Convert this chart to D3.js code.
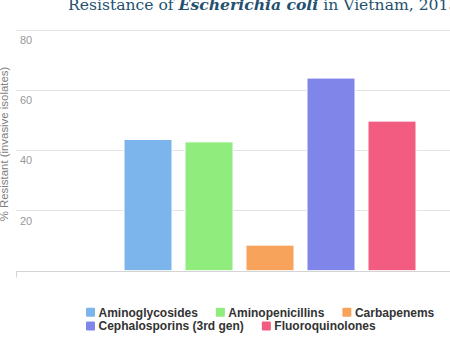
<!DOCTYPE html>
<html>
<head>
<meta charset="utf-8">
<script src="https://cdn.jsdelivr.net/npm/d3@7"></script>
<style>
  html, body { margin: 0; padding: 0; background: #ffffff; }
  svg { display: block; }
</style>
</head>
<body>
<svg id="chart" width="450" height="338"></svg>
<script>
// Antibiotic classes (one column each) and share of resistant invasive isolates, %
const classes = ["Aminoglycosides", "Aminopenicillins", "Carbapenems", "Cephalosporins (3rd gen)", "Fluoroquinolones"];
const resistant = [43.6, 42.8, 8.5, 64, 49.7];
const colors = ["#7cb5ec", "#90ed7d", "#f7a35c", "#8085e9", "#f15c80"];
const yTicks = [0, 20, 40, 60, 80];

const svg = d3.select("#chart");

// Plot frame
const plotLeft = 16, plotRight = 450;
const y = d3.scaleLinear().domain([0, 80]).range([270.7, 29.9]);
const x = d3.scaleBand().domain(classes).range([124, 416]).paddingInner(13 / 61).paddingOuter(0);

// Title (runs past the right edge)
const title = svg.append("text")
  .attr("x", 68).attr("y", 9.5)
  .attr("font-family", "'DejaVu Serif', 'Liberation Serif', serif")
  .attr("font-size", 15.6)
  .attr("fill", "#24516f");
title.append("tspan").text("Resistance of ");
title.append("tspan").attr("font-weight", "bold").attr("font-style", "italic").text("Escherichia coli");
title.append("tspan").text(" in Vietnam, 2013");

// Horizontal grid lines
svg.append("g").selectAll("line")
  .data(yTicks.filter(d => d > 0))
  .join("line")
  .attr("x1", plotLeft).attr("x2", plotRight)
  .attr("y1", d => Math.round(y(d)) + 0.5).attr("y2", d => Math.round(y(d)) + 0.5)
  .attr("stroke", "#e3e3e3").attr("stroke-width", 1);

// Tick labels sit just under their grid lines
svg.append("g").selectAll("text")
  .data(yTicks.filter(d => d > 0))
  .join("text")
  .attr("x", 20).attr("y", d => y(d) + 14)
  .attr("font-family", "'Liberation Sans', Arial, sans-serif")
  .attr("font-size", 11)
  .attr("fill", "#999")
  .text(d => d);

// Axis title
svg.append("text")
  .attr("transform", "translate(8, 144) rotate(-90)")
  .attr("text-anchor", "middle")
  .attr("font-family", "'Liberation Sans', Arial, sans-serif")
  .attr("font-size", 11.4)
  .attr("fill", "#808080")
  .text("% Resistant (invasive isolates)");

// Columns
svg.append("g").selectAll("rect")
  .data(classes)
  .join("rect")
  .attr("x", d => x(d))
  .attr("width", x.bandwidth())
  .attr("y", (d, i) => y(resistant[i]))
  .attr("height", (d, i) => y(0) - y(resistant[i]))
  .attr("fill", (d, i) => colors[i])
  .attr("stroke", "#ffffff").attr("stroke-width", 1);

// Baseline with a single tick at the left end
const y0 = Math.round(y(0)) + 0.5;
svg.append("line")
  .attr("x1", plotLeft).attr("x2", plotRight)
  .attr("y1", y0).attr("y2", y0)
  .attr("stroke", "#d4d4d4");
svg.append("line")
  .attr("x1", plotLeft + 0.5).attr("x2", plotLeft + 0.5)
  .attr("y1", y0).attr("y2", y0 + 6)
  .attr("stroke", "#d4d4d4");

// Legend: items flow left to right, three per row
const legend = svg.append("g");
const legStartX = 86, rowY = [312.3, 326], perRow = 3, gap = 18;
let cx = legStartX;
classes.forEach((name, i) => {
  const row = Math.floor(i / perRow);
  if (i % perRow === 0) cx = legStartX;
  const g = legend.append("g").attr("transform", `translate(${cx}, ${rowY[row]})`);
  g.append("rect")
    .attr("x", 0).attr("y", -4.5).attr("width", 9).attr("height", 9)
    .attr("rx", 1).attr("fill", colors[i]);
  const t = g.append("text")
    .attr("x", 12.5).attr("y", 4.3)
    .attr("font-family", "'Liberation Sans', Arial, sans-serif")
    .attr("font-size", 12).attr("font-weight", "bold")
    .attr("fill", "#333")
    .text(name);
  cx += 12.5 + t.node().getComputedTextLength() + gap;
});
</script>
</body>
</html>
